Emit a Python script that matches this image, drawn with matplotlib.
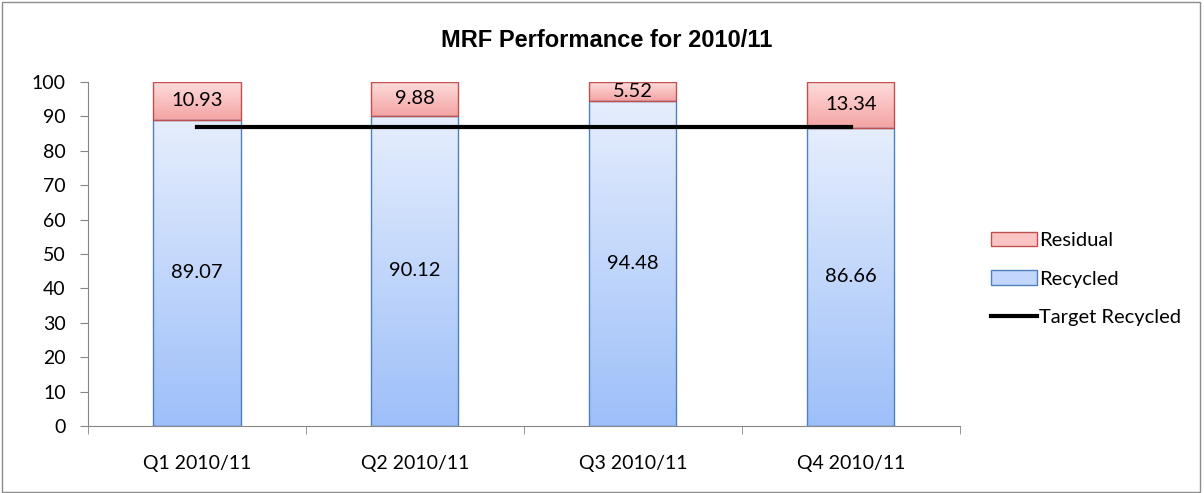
import numpy as np
import matplotlib.pyplot as plt
from matplotlib.colors import LinearSegmentedColormap
from matplotlib.patches import Patch, Rectangle
from matplotlib.lines import Line2D

# data
quarters = ["Q1 2010/11", "Q2 2010/11", "Q3 2010/11", "Q4 2010/11"]
recycled = [89.07, 90.12, 94.48, 86.66]
residual = [10.93, 9.88, 5.52, 13.34]
target = [87, 87, 87, 87]

plt.rcParams['font.family'] = ['Lato', 'DejaVu Sans']

fig = plt.figure(figsize=(12.04, 4.93), dpi=100)
ax = fig.add_axes([0.0731, 0.1359, 0.7240, 0.6978])

# outer chart border
fig.patches.append(Rectangle((0.002, 0.003), 0.995, 0.993, transform=fig.transFigure,
                             fill=False, edgecolor="#8c8c8c", linewidth=1))

x = np.arange(len(quarters))
width = 0.40

blue_cmap = LinearSegmentedColormap.from_list("b", ["#9dbff9", "#e6eefd"])
red_cmap = LinearSegmentedColormap.from_list("r", ["#f4a3a3", "#ffdcdc"])
grad = np.linspace(0, 1, 256).reshape(-1, 1)

bars_rec = ax.bar(x, recycled, width, color="none", edgecolor="#4f81bd", linewidth=1, zorder=3)
bars_res = ax.bar(x, residual, width, bottom=recycled, color="none", edgecolor="#c0504d",
                  linewidth=1, zorder=3)

for bars, cmap in ((bars_rec, blue_cmap), (bars_res, red_cmap)):
    for b in bars:
        x0, y0 = b.get_x(), b.get_y()
        w, h = b.get_width(), b.get_height()
        im = ax.imshow(grad, cmap=cmap, origin="lower", aspect="auto",
                       extent=[x0, x0 + w, y0, y0 + h], zorder=2)
        im.set_clip_path(b)

for i in range(len(quarters)):
    ax.text(x[i], recycled[i] / 2, f"{recycled[i]:.2f}", ha="center", va="center",
            fontsize=14.5, zorder=4)
    ax.text(x[i], recycled[i] + residual[i] / 2, f"{residual[i]:.2f}", ha="center",
            va="center", fontsize=14.5, zorder=4)

ax.plot(x, target, color="black", linewidth=3, zorder=5)

ax.set_xlim(-0.5, 3.5)
ax.set_ylim(0, 100)
ax.set_yticks(range(0, 101, 10))
ax.set_xticks(x)
ax.set_xticklabels(quarters, fontsize=14)
ax.tick_params(axis="x", length=0, pad=21)
ax.set_xticks(np.arange(-0.5, 4, 1), minor=True)
ax.tick_params(axis="x", which="minor", length=6, color="#868686")
ax.tick_params(axis="y", labelsize=14, length=6, color="#868686", pad=10)

for s in ["top", "right"]:
    ax.spines[s].set_visible(False)
for s in ["left", "bottom"]:
    ax.spines[s].set_color("#868686")

fig.text(0.504, 0.918, "MRF Performance for 2010/11", ha="center", va="center",
         fontsize=17, fontweight="bold", family=["Liberation Sans", "DejaVu Sans"])

handles = [
    Patch(facecolor="#fbc4c4", edgecolor="#c0504d", label="Residual"),
    Patch(facecolor="#c3d6fb", edgecolor="#4f81bd", label="Recycled"),
    Line2D([0], [0], color="black", linewidth=3, label="Target Recycled"),
]
fig.legend(handles=handles, loc="center left", bbox_to_anchor=(0.823, 0.434),
           frameon=False, fontsize=14.5, labelspacing=1.05, handlelength=2.3,
           handletextpad=0.1, borderaxespad=0, borderpad=0)

fig.savefig("out.png", dpi=100)
